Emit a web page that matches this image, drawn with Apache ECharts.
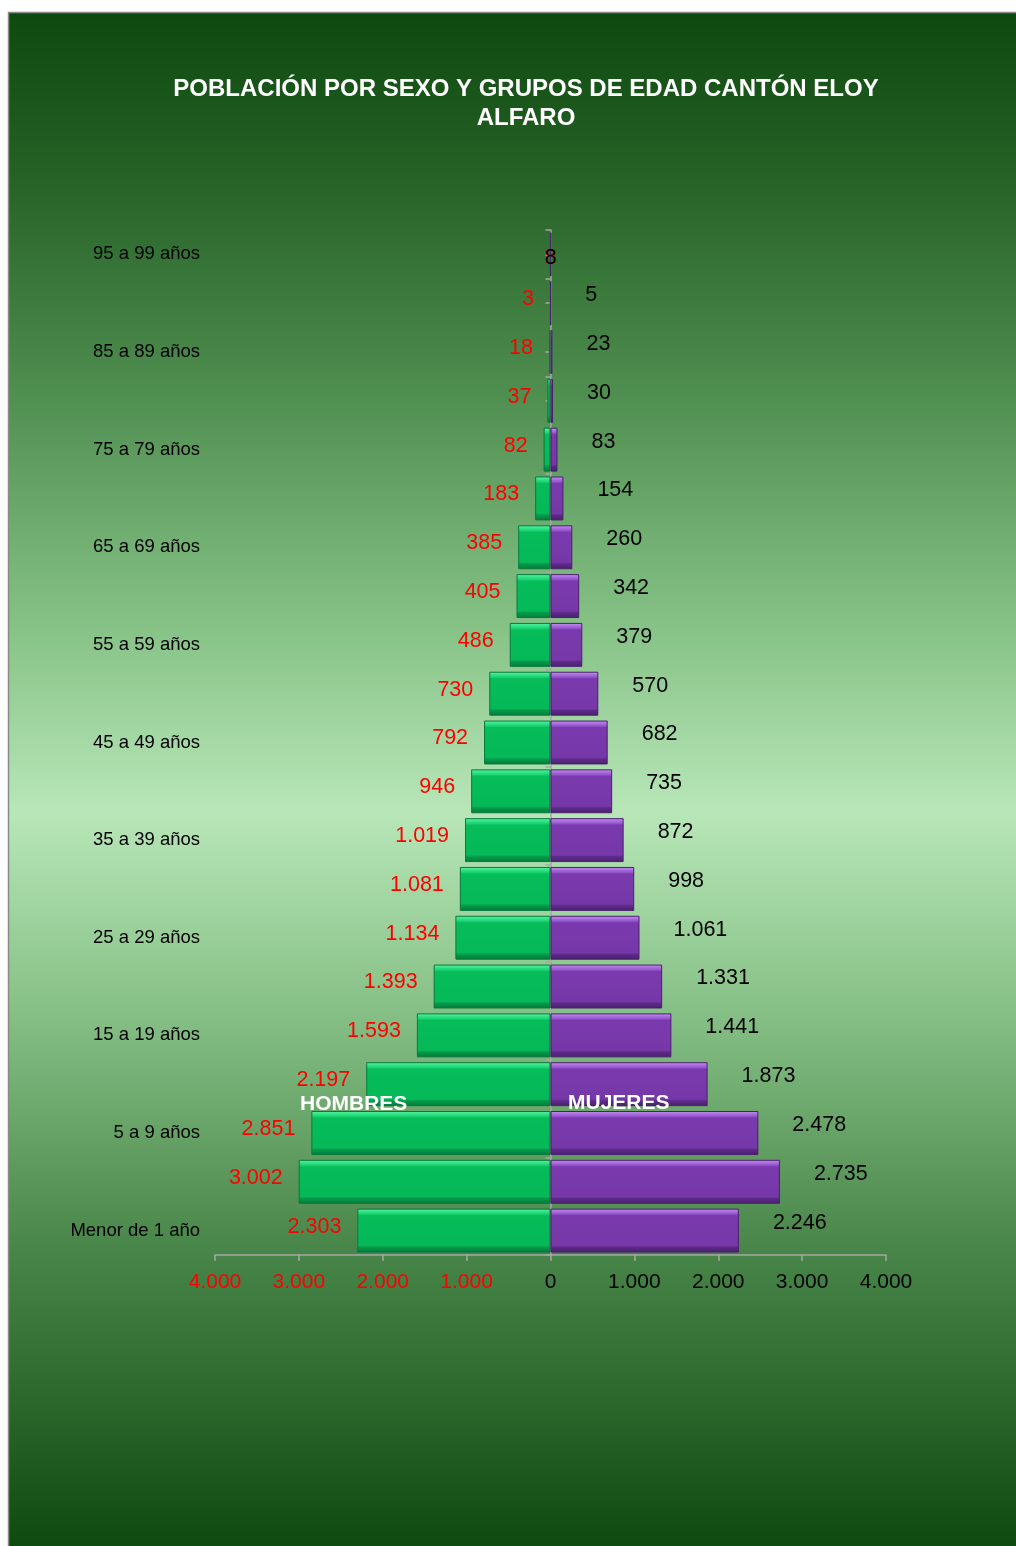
<!DOCTYPE html>
<html>
<head>
<meta charset="utf-8">
<script src="https://cdn.jsdelivr.net/npm/echarts@6/dist/echarts.min.js"></script>
<style>
html,body{margin:0;padding:0;background:#fff;}
#c{width:1016px;height:1546px;}
</style>
</head>
<body>
<div id="c"></div>
<script>
const categories = ["Menor de 1 año","1 a 4 años","5 a 9 años","10 a 14 años","15 a 19 años","20 a 24 años","25 a 29 años","30 a 34 años","35 a 39 años","40 a 44 años","45 a 49 años","50 a 54 años","55 a 59 años","60 a 64 años","65 a 69 años","70 a 74 años","75 a 79 años","80 a 84 años","85 a 89 años","90 a 94 años","95 a 99 años"];
const hombres = [2303,3002,2851,2197,1593,1393,1134,1081,1019,946,792,730,486,405,385,183,82,37,18,3,8];
const mujeres = [2246,2735,2478,1873,1441,1331,1061,998,872,735,682,570,379,342,260,154,83,30,23,5,8];
const xTicks = [-4000,-3000,-2000,-1000,0,1000,2000,3000,4000];

function fmt(v){
  v = Math.abs(Math.round(v));
  return String(v).replace(/\B(?=(\d{3})+(?!\d))/g, '.');
}
const FONT = 'Liberation Sans, Arial, sans-serif';
const last = categories.length - 1;

const greenFill = new echarts.graphic.LinearGradient(0,0,0,1,[
  {offset:0,color:'#5af5a5'},{offset:0.12,color:'#1ad472'},{offset:0.16,color:'#06bd5a'},
  {offset:0.84,color:'#05b858'},{offset:0.88,color:'#049a4a'},{offset:1,color:'#037a3a'}]);
const purpleFill = new echarts.graphic.LinearGradient(0,0,0,1,[
  {offset:0,color:'#c890f5'},{offset:0.12,color:'#9456cc'},{offset:0.16,color:'#7a3aae'},
  {offset:0.84,color:'#7638a8'},{offset:0.88,color:'#5e2a8a'},{offset:1,color:'#48206c'}]);

const hData = hombres.map((v,i)=>{
  const d = {value:-v};
  if(i===last) d.label = {position:'inside', offset:[0,4]};
  return d;
});
const mData = mujeres.map((v,i)=>{
  const d = {value:v};
  if(i===last) d.label = {position:'inside', offset:[0,4]};
  return d;
});

const chart = echarts.init(document.getElementById('c'), null, {renderer:'canvas'});
chart.setOption({
  animation:false,
  backgroundColor:'#ffffff',
  title:{
    text:'POBLACIÓN POR SEXO Y GRUPOS DE EDAD CANTÓN ELOY\nALFARO',
    left:521, top:70, textAlign:'center',
    textStyle:{color:'#ffffff',fontSize:24,fontWeight:'bold',fontFamily:FONT,lineHeight:29}
  },
  graphic:[
    {type:'rect', z:-10, silent:true, shape:{x:8.5,y:12.5,width:1010,height:1536},
     style:{stroke:'#8a8a8a',lineWidth:1.5,
       fill:new echarts.graphic.LinearGradient(0,0,0,1,[
         {offset:0,color:'#0e4a0f'},{offset:0.1,color:'#245f24'},{offset:0.25,color:'#4f8f50'},
         {offset:0.4,color:'#86c286'},{offset:0.52,color:'#b8e6b8'},{offset:0.65,color:'#86c086'},
         {offset:0.8,color:'#4a874a'},{offset:1,color:'#0e4a0f'}])}},
    {type:'text', z:100, left:300, top:1094,
     style:{text:'HOMBRES',fill:'#ffffff',font:'bold 21px '+FONT}},
    {type:'text', z:100, left:568, top:1093,
     style:{text:'MUJERES',fill:'#ffffff',font:'bold 21px '+FONT}}
  ],
  grid:{left:215,right:130,top:230,bottom:291,containLabel:false,outerBoundsMode:'none'},
  xAxis:{
    type:'value', min:-4000, max:4000, interval:1000,
    splitLine:{show:false},
    axisLine:{show:true,lineStyle:{color:'#a6a6a6',width:1.5}},
    axisTick:{show:true,length:6,lineStyle:{color:'#a6a6a6',width:1.5}},
    axisLabel:{
      margin:17, fontSize:21, fontFamily:FONT, hideOverlap:false,
      formatter:v=>fmt(v),
      color:v=> (v<0 ? '#ff0000' : '#000000')
    }
  },
  yAxis:[
    {
      type:'category', data:categories,
      axisLine:{show:true,onZero:true,lineStyle:{color:'#a6a6a6',width:1.5}},
      axisTick:{show:true,length:5,alignWithLabel:false,lineStyle:{color:'#a6a6a6',width:1.5}},
      axisLabel:{interval:1, margin:15, fontSize:18.5, color:'#000000', fontFamily:FONT, align:'right',
                 padding:[4,0,0,0]}
    },
    {
      type:'category', data:categories,
      axisLine:{show:false,onZero:true,onZeroAxisIndex:0},
      axisTick:{show:true,length:5,alignWithLabel:true,lineStyle:{color:'#a6a6a6',width:1.5}},
      axisLabel:{show:false},
      position:'left'
    }
  ],
  series:[
    {
      name:'HOMBRES', type:'bar', data:hData, barWidth:'90%', barGap:'-100%',
      itemStyle:{color:greenFill,borderColor:'#067a3c',borderWidth:1},
      label:{show:true,position:'left',distance:16,offset:[0,-4],color:'#ff0000',
             fontSize:21.5,fontFamily:FONT,formatter:p=>fmt(p.value)},
      z:2
    },
    {
      name:'MUJERES', type:'bar', data:mData, barWidth:'90%', barGap:'-100%',
      itemStyle:{color:purpleFill,borderColor:'#4a1f6e',borderWidth:1},
      label:{show:true,position:'right',distance:34,offset:[0,-8],color:'#000000',
             fontSize:21.5,fontFamily:FONT,formatter:p=>fmt(p.value)},
      z:3
    }
  ]
});
</script>
</body>
</html>
